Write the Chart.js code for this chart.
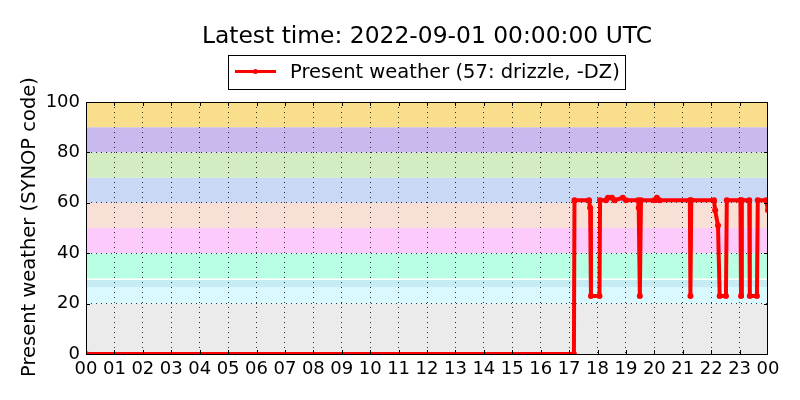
<!DOCTYPE html>
<html>
<head>
<meta charset="utf-8">
<script src="https://cdn.jsdelivr.net/npm/chart.js@4/dist/chart.umd.min.js"></script>
<style>
  html, body { margin: 0; padding: 0; background: #ffffff; }
  #wrap { width: 800px; height: 400px; }
</style>
</head>
<body>
<div id="wrap"><canvas id="wxChart" width="800" height="400"></canvas></div>
<script>
// time of day in hours (UTC) and present weather code at that time
const hours = [0, 17.17, 17.19, 17.70, 17.74, 17.77, 18.07, 18.09, 18.30, 18.37, 18.51, 18.60, 18.89, 19.00,
  19.43, 19.45, 19.49, 19.53, 20.00, 20.09, 20.18, 21.25, 21.27, 21.30, 22.10, 22.14, 22.24, 22.30, 22.52,
  22.55, 23.03, 23.05, 23.08, 23.34, 23.36, 23.61, 23.64, 23.93, 24.0];
const codes = [0, 0, 61, 61, 58, 23, 23, 61, 61, 62, 62, 61, 62, 61,
  61, 58, 23, 61, 61, 62, 61, 61, 23, 61, 61, 57, 51, 23, 23,
  61, 61, 23, 61, 61, 23, 23, 61, 61, 57];

const yTicks = [0, 20, 40, 60, 80, 100];
const titleText = 'Latest time: 2022-09-01 00:00:00 UTC';
const legendText = 'Present weather (57: drizzle, -DZ)';
const yTitle = 'Present weather (SYNOP code)';

// SYNOP code groups shown as background bands
const bandLow  = [0, 20, 26.6, 30, 40, 50, 60, 70, 80, 90];
const bandHigh = [20, 26.6, 29.4, 40, 50, 60, 70, 80, 90, 100];
const bandColors = ['#ebebeb', '#d9f9fe', '#c6ecf3', '#b8ffe4', '#fccbfc', '#f9e0d6', '#c9d8f5', '#d3ecc2', '#c9b9ef', '#f9df8b'];

const FONT = 'DejaVu Sans, sans-serif';

const bandsPlugin = {
  id: 'bands',
  beforeDraw(chart) {
    const ctx = chart.ctx;
    const area = chart.chartArea;
    const y = chart.scales.y;
    ctx.save();
    for (let i = 0; i < bandLow.length; i++) {
      const top = y.getPixelForValue(bandHigh[i]);
      const bot = y.getPixelForValue(bandLow[i]);
      ctx.fillStyle = bandColors[i];
      ctx.fillRect(area.left, top, area.right - area.left, bot - top);
    }
    ctx.restore();
  }
};

const decorPlugin = {
  id: 'decor',
  afterDraw(chart) {
    const ctx = chart.ctx;
    const a = chart.chartArea;
    const x = chart.scales.x;
    const y = chart.scales.y;
    ctx.save();

    // inward tick marks on all four sides
    ctx.strokeStyle = '#000';
    ctx.lineWidth = 1;
    ctx.beginPath();
    for (let h = 1; h < 24; h++) {
      const px = Math.round(x.getPixelForValue(h)) + 0.5;
      ctx.moveTo(px, a.bottom); ctx.lineTo(px, a.bottom - 4);
      ctx.moveTo(px, a.top); ctx.lineTo(px, a.top + 4);
    }
    yTicks.slice(1, -1).forEach(v => {
      const py = Math.round(y.getPixelForValue(v)) + 0.5;
      ctx.moveTo(a.left, py); ctx.lineTo(a.left + 4, py);
      ctx.moveTo(a.right, py); ctx.lineTo(a.right - 4, py);
    });
    ctx.stroke();

    // frame
    ctx.strokeRect(Math.round(a.left) + 0.5, Math.round(a.top) + 0.5,
      Math.round(a.right - a.left) - 1, Math.round(a.bottom - a.top));

    // title
    ctx.fillStyle = '#000';
    ctx.font = '23.4px ' + FONT;
    ctx.textAlign = 'center';
    ctx.textBaseline = 'middle';
    ctx.fillText(titleText, 427, 37);

    // legend box
    ctx.fillStyle = '#fff';
    ctx.fillRect(228.5, 55.5, 397, 34);
    ctx.strokeStyle = '#000';
    ctx.strokeRect(228.5, 55.5, 397, 34);
    ctx.strokeStyle = '#ff0000';
    ctx.lineWidth = 3;
    ctx.beginPath();
    ctx.moveTo(235, 71.5); ctx.lineTo(276, 71.5);
    ctx.stroke();
    ctx.fillStyle = '#ff0000';
    ctx.beginPath();
    ctx.arc(255.5, 71.5, 2.5, 0, Math.PI * 2);
    ctx.fill();
    ctx.fillStyle = '#000';
    ctx.font = '19.5px ' + FONT;
    ctx.textAlign = 'left';
    ctx.fillText(legendText, 290, 73);

    // y axis title
    ctx.translate(30, 227);
    ctx.rotate(-Math.PI / 2);
    ctx.textAlign = 'center';
    ctx.fillText(yTitle, 0, 0);
    ctx.restore();
  }
};

const ctx = document.getElementById('wxChart').getContext('2d');
const chart = new Chart(ctx, {
  type: 'line',
  data: {
    datasets: [{
      label: legendText,
      data: hours.map((h, i) => ({ x: h, y: codes[i] })),
      borderColor: '#ff0000',
      backgroundColor: '#ff0000',
      borderWidth: 4,
      pointRadius: 3,
      pointBorderWidth: 0,
      pointBackgroundColor: '#ff0000',
      tension: 0,
      fill: false
    }]
  },
  options: {
    responsive: false,
    animation: false,
    layout: { padding: { top: 102, right: 32, left: 0, bottom: 0 } },
    plugins: {
      legend: { display: false },
      title: { display: false },
      tooltip: { enabled: false }
    },
    scales: {
      x: {
        type: 'linear',
        min: 0,
        max: 24,
        afterFit(scale) { scale.height = 46; },
        ticks: {
          stepSize: 1,
          autoSkip: false,
          maxRotation: 0,
          padding: 5,
          color: '#000',
          font: { family: FONT, size: 18 },
          callback: v => String(v % 24).padStart(2, '0')
        },
        grid: {
          drawTicks: false,
          color: c => (c.tick.value === 0 || c.tick.value === 24) ? 'rgba(0,0,0,0)' : 'rgba(0,0,0,0.8)',
          lineWidth: 1
        },
        border: { display: false, dash: [1, 4] }
      },
      y: {
        min: 0,
        max: 100,
        afterFit(scale) { scale.width = 86; },
        afterBuildTicks(scale) { scale.ticks = yTicks.map(v => ({ value: v })); },
        ticks: {
          padding: 6,
          color: '#000',
          font: { family: FONT, size: 18 }
        },
        grid: {
          drawTicks: false,
          color: c => (c.tick.value === 0 || c.tick.value === 100) ? 'rgba(0,0,0,0)' : 'rgba(0,0,0,0.8)',
          lineWidth: 1
        },
        border: { display: false, dash: [1, 4] }
      }
    }
  },
  plugins: [bandsPlugin, decorPlugin]
});
</script>
</body>
</html>
